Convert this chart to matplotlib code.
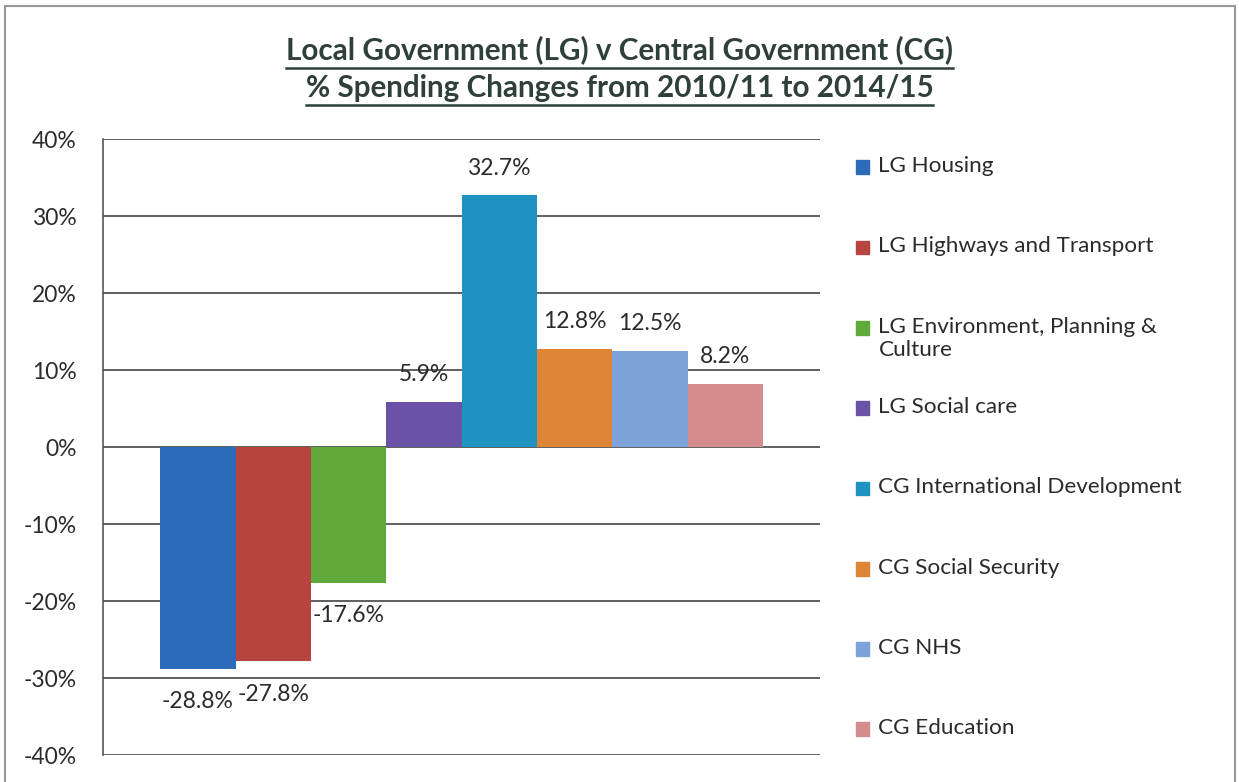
import matplotlib.pyplot as plt
from matplotlib.patches import Rectangle
from matplotlib.ticker import FuncFormatter

# spending changes 2010/11 -> 2014/15, in percent
categories = ["LG Housing", "LG Highways and Transport",
              "LG Environment, Planning &\nCulture", "LG Social care",
              "CG International Development", "CG Social Security",
              "CG NHS", "CG Education"]
changes = [-28.8, -27.8, -17.6, 5.9, 32.7, 12.8, 12.5, 8.2]
colours = ["#2c6bb8", "#b8443f", "#5fa83a", "#6a52a6",
           "#1f93bf", "#dd8535", "#7ea2dc", "#d48c8c"]
y_ticks = [-40, -30, -20, -10, 0, 10, 20, 30, 40]

plt.rcParams["font.family"] = ["Lato", "DejaVu Sans"]
text_col = "#2b2b2b"

fig = plt.figure(figsize=(12.39, 7.82), dpi=100)
ax = fig.add_axes([0.083, 0.034, 0.579, 0.788])

# one group of eight side-by-side bars
width = 0.84 / len(changes)
start = -0.42 + width / 2
for i, (val, col) in enumerate(zip(changes, colours)):
    x = start + i * width
    ax.bar(x, val, width=width, color=col, zorder=3)
    if val >= 0:
        ax.annotate(f"{val:.1f}%", (x, val), xytext=(0, 12),
                    textcoords="offset points", ha="center", va="bottom",
                    fontsize=16.5, color=text_col)
    else:
        ax.annotate(f"{val:.1f}%", (x, val), xytext=(0, -16),
                    textcoords="offset points", ha="center", va="top",
                    fontsize=16.5, color=text_col)

ax.set_xlim(-0.5, 0.5)
ax.set_ylim(-40, 40)
ax.set_yticks(y_ticks)
ax.yaxis.set_major_formatter(FuncFormatter(lambda v, p: f"{v:.0f}%"))
ax.tick_params(axis="y", length=0, pad=19, labelsize=16.5, labelcolor=text_col)
ax.set_xticks([])
ax.grid(axis="y", color="#444444", linewidth=1.2, zorder=1)
for s in ["top", "right", "bottom"]:
    ax.spines[s].set_visible(False)
ax.spines["left"].set_color("#555555")
ax.spines["left"].set_linewidth(1.2)

# title, underlined
t1 = "Local Government (LG) v Central Government (CG)"
t2 = "% Spending Changes from 2010/11 to 2014/15"
for txt, yy in [(t1, 0.936), (t2, 0.887)]:
    t = fig.text(0.5, yy, txt, ha="center", va="center", fontsize=21.3,
                 fontweight="bold", color="#2f3f3a")
    fig.canvas.draw()
    bb = t.get_window_extent().transformed(fig.transFigure.inverted())
    fig.add_artist(plt.Line2D([bb.x0, bb.x1], [bb.y0 - 0.004, bb.y0 - 0.004],
                              color="#2f3f3a", linewidth=1.8))

# legend entries on the right, evenly spaced
leg_top = 0.787
step = 0.1027
for i, (name, col) in enumerate(zip(categories, colours)):
    yy = leg_top - i * step
    fig.add_artist(Rectangle((0.6905, yy - 0.0095), 0.011, 0.0175,
                             transform=fig.transFigure, color=col))
    fig.text(0.709, yy + 0.0135, name, ha="left", va="top",
             fontsize=16.2, color=text_col, linespacing=1.2)

# outer frame
fig.add_artist(Rectangle((0.004, -0.01), 0.993, 1.002, transform=fig.transFigure,
                         fill=False, edgecolor="#9a9a9a", linewidth=1.5))

fig.savefig("out.png", dpi=100)
